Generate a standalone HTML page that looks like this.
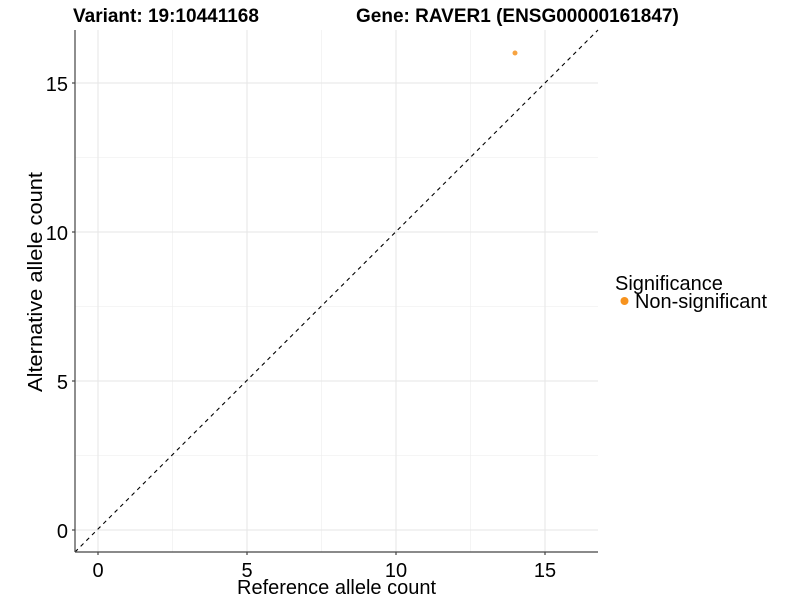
<!DOCTYPE html>
<html><head><meta charset="utf-8"><style>body{margin:0;background:#fff}svg{display:block}</style></head>
<body>
<svg width="800" height="600" xmlns="http://www.w3.org/2000/svg" font-family="Liberation Sans, sans-serif">
<rect width="800" height="600" fill="#fff"/>
<g stroke="#ececec" stroke-width="0.6">
<line x1="172.5" y1="30" x2="172.5" y2="552"/><line x1="321.5" y1="30" x2="321.5" y2="552"/><line x1="470.5" y1="30" x2="470.5" y2="552"/>
<line x1="75" y1="455.5" x2="598" y2="455.5"/><line x1="75" y1="306.5" x2="598" y2="306.5"/><line x1="75" y1="157.5" x2="598" y2="157.5"/>
</g>
<g stroke="#e6e6e6" stroke-width="1">
<line x1="98" y1="30" x2="98" y2="552"/><line x1="247" y1="30" x2="247" y2="552"/><line x1="396" y1="30" x2="396" y2="552"/><line x1="545" y1="30" x2="545" y2="552"/>
<line x1="75" y1="530" x2="598" y2="530"/><line x1="75" y1="381" x2="598" y2="381"/><line x1="75" y1="232" x2="598" y2="232"/><line x1="75" y1="83" x2="598" y2="83"/>
</g>
<line x1="75" y1="552" x2="598" y2="30" stroke="#000" stroke-width="1.1" stroke-dasharray="4,4"/>
<circle cx="515" cy="53" r="2.5" fill="#f7a340"/>
<g stroke="#444" stroke-width="1.2">
<line x1="75" y1="30" x2="75" y2="552"/><line x1="75" y1="552" x2="598" y2="552"/>
<line x1="72" y1="530" x2="75" y2="530"/><line x1="72" y1="381" x2="75" y2="381"/><line x1="72" y1="232" x2="75" y2="232"/><line x1="72" y1="83" x2="75" y2="83"/>
<line x1="98" y1="552" x2="98" y2="555"/><line x1="247" y1="552" x2="247" y2="555"/><line x1="396" y1="552" x2="396" y2="555"/><line x1="545" y1="552" x2="545" y2="555"/>
</g>
<g font-size="20" fill="#000" text-anchor="end">
<text x="68" y="538">0</text><text x="68" y="389">5</text><text x="68" y="240">10</text><text x="68" y="91">15</text>
</g>
<g font-size="20" fill="#000" text-anchor="middle">
<text x="98" y="577">0</text><text x="247" y="577">5</text><text x="396" y="577">10</text><text x="545" y="577">15</text>
</g>
<text x="237" y="594" font-size="20" textLength="199" lengthAdjust="spacingAndGlyphs">Reference allele count</text>
<text transform="translate(42,392) rotate(-90)" font-size="20" textLength="220" lengthAdjust="spacingAndGlyphs">Alternative allele count</text>
<text x="73" y="22" font-size="19" font-weight="bold">Variant: 19:10441168</text>
<text x="356" y="22" font-size="19" font-weight="bold">Gene: RAVER1 (ENSG00000161847)</text>
<text x="615" y="290" font-size="20">Significance</text>
<circle cx="624.5" cy="301" r="4" fill="#f7931e"/>
<text x="635" y="308" font-size="20" textLength="132" lengthAdjust="spacingAndGlyphs">Non-significant</text>
</svg>
</body></html>
